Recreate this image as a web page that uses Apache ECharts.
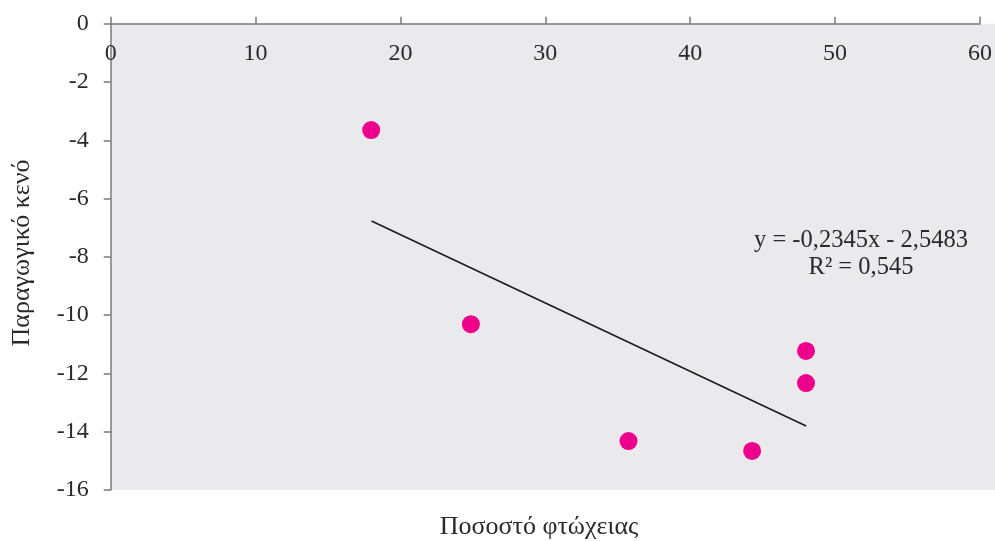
<!DOCTYPE html>
<html>
<head>
<meta charset="utf-8">
<script src="https://cdn.jsdelivr.net/npm/echarts@6/dist/echarts.min.js"></script>
<style>html,body{margin:0;padding:0;background:#fff}#c{width:995px;height:541px}</style>
</head>
<body>
<div id="c"></div>
<script>
var povertyX = [17.98, 24.86, 35.74, 44.27, 47.99, 47.99];
var gapY = [-3.65, -10.31, -14.32, -14.66, -11.23, -12.33];
var trendX = [18, 48];
var trendY = [-6.769, -13.804];
var xTicks = [0, 10, 20, 30, 40, 50, 60];
var yTicks = [0, -2, -4, -6, -8, -10, -12, -14, -16];
var xTitle = 'Ποσοστό φτώχειας';
var yTitle = 'Παραγωγικό κενό';
var eqLine1 = 'y = -0,2345x - 2,5483';
var eqLine2 = 'R² = 0,545';

var FONT = 'Liberation Serif';
var chart = echarts.init(document.getElementById('c'), null, {renderer: 'canvas'});
chart.setOption({
  animation: false,
  grid: {left: 110.7, right: 12.3, top: 23.7, bottom: 51, show: false},
  xAxis: {
    type: 'value', position: 'top', min: xTicks[0], max: xTicks[xTicks.length - 1], interval: 10,
    splitLine: {show: false},
    axisLine: {show: true, onZero: false, lineStyle: {color: '#7a7a7a', width: 1.5}},
    axisTick: {show: true, inside: false, length: 7, lineStyle: {color: '#7a7a7a', width: 1.5}},
    axisLabel: {inside: true, margin: 18, color: '#2a2a2a', fontFamily: FONT, fontSize: 24}
  },
  yAxis: {
    type: 'value', min: yTicks[yTicks.length - 1], max: yTicks[0], interval: 2,
    splitLine: {show: false},
    axisLine: {show: true, onZero: false, lineStyle: {color: '#7a7a7a', width: 1.5}},
    axisTick: {show: true, inside: false, length: 7, lineStyle: {color: '#7a7a7a', width: 1.5}},
    axisLabel: {margin: 22, color: '#2a2a2a', fontFamily: FONT, fontSize: 24}
  },
  series: [
    {
      type: 'line', data: trendX.map(function (x, i) { return [x, trendY[i]]; }),
      showSymbol: false, symbol: 'none', lineStyle: {color: '#1a1a1a', width: 1.5}, z: 2
    },
    {
      type: 'scatter', data: povertyX.map(function (x, i) { return [x, gapY[i]]; }),
      symbol: 'circle', symbolSize: 18, itemStyle: {color: '#ec008c', opacity: 1}, z: 3
    }
  ],
  graphic: [
    {type: 'rect', z: -10, silent: true, shape: {x: 110.7, y: 23.7, width: 995 - 110.7, height: 490 - 23.7}, style: {fill: '#eaeaec'}},
    {type: 'text', x: 539, y: 527, style: {text: xTitle, fontFamily: FONT, fontSize: 26, fill: '#2a2a2a', textAlign: 'center', textVerticalAlign: 'middle'}},
    {type: 'text', x: 22, y: 253, rotation: Math.PI / 2, style: {text: yTitle, fontFamily: FONT, fontSize: 26, fill: '#2a2a2a', textAlign: 'center', textVerticalAlign: 'middle'}},
    {type: 'text', x: 861, y: 241, style: {text: eqLine1, fontFamily: FONT, fontSize: 24.5, fill: '#2a2a2a', textAlign: 'center', textVerticalAlign: 'middle'}},
    {type: 'text', x: 861, y: 268, style: {text: eqLine2, fontFamily: FONT, fontSize: 24.5, fill: '#2a2a2a', textAlign: 'center', textVerticalAlign: 'middle'}}
  ]
});
</script>
</body>
</html>
